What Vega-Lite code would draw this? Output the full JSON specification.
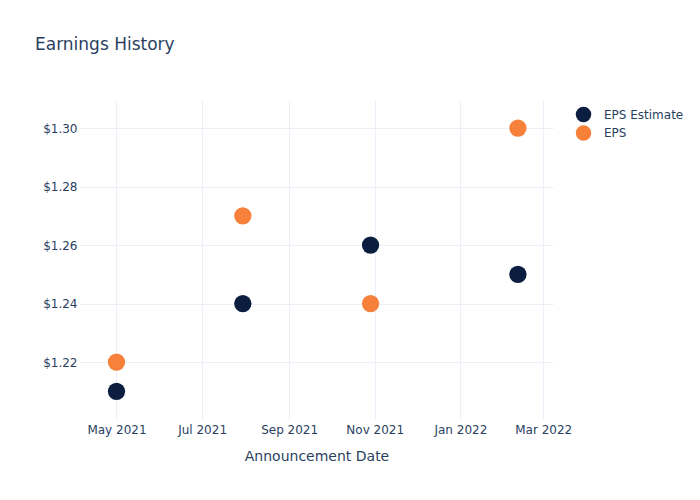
{
  "$schema": "https://vega.github.io/schema/vega-lite/v6.json",
  "autosize": "none",
  "width": 473,
  "height": 320,
  "padding": {"left": 80, "top": 100, "right": 147, "bottom": 80},
  "background": "white",
  "title": {"text": "Earnings History", "anchor": "start", "frame": "group", "dx": -45, "offset": 33, "fontSize": 17, "font": "DejaVu Sans", "fontWeight": "normal", "color": "#2a3f5f", "baseline": "alphabetic"},
  "config": {
    "font": "DejaVu Sans",
    "view": {"stroke": null},
    "axis": {"domain": false, "ticks": false, "gridColor": "#ebf0f8", "gridWidth": 1, "labelColor": "#2a3f5f", "labelFontSize": 12, "titleColor": "#2a3f5f", "titleFontSize": 14, "titleFontWeight": "normal"}
  },
  "data": {"values": [
    {"date": "2021-05-01", "series": "EPS Estimate", "value": 1.21},
    {"date": "2021-07-30", "series": "EPS Estimate", "value": 1.24},
    {"date": "2021-10-29", "series": "EPS Estimate", "value": 1.26},
    {"date": "2022-02-11", "series": "EPS Estimate", "value": 1.25},
    {"date": "2021-05-01", "series": "EPS", "value": 1.22},
    {"date": "2021-07-30", "series": "EPS", "value": 1.27},
    {"date": "2021-10-29", "series": "EPS", "value": 1.24},
    {"date": "2022-02-11", "series": "EPS", "value": 1.30}
  ]},
  "mark": {"type": "circle", "size": 300, "opacity": 1},
  "encoding": {
    "x": {"field": "date", "type": "temporal", "title": "Announcement Date",
      "scale": {"type": "utc", "domain": [{"year": 2021, "month": 4, "date": 5, "utc": true}, {"year": 2022, "month": 3, "date": 8, "utc": true}]},
      "axis": {"values": [
        {"year": 2021, "month": 5, "date": 1, "utc": true},
        {"year": 2021, "month": 7, "date": 1, "utc": true},
        {"year": 2021, "month": 9, "date": 1, "utc": true},
        {"year": 2021, "month": 11, "date": 1, "utc": true},
        {"year": 2022, "month": 1, "date": 1, "utc": true},
        {"year": 2022, "month": 3, "date": 1, "utc": true}
      ], "format": "%b %Y", "labelPadding": 4, "titlePadding": 14, "labelFlush": false, "labelOverlap": false}},
    "y": {"field": "value", "type": "quantitative", "title": null,
      "scale": {"domain": [1.2002, 1.3096], "zero": false, "nice": false},
      "axis": {"values": [1.22, 1.24, 1.26, 1.28, 1.30], "format": "$.2f", "labelPadding": 3}},
    "color": {"field": "series", "type": "nominal",
      "scale": {"domain": ["EPS Estimate", "EPS"], "range": ["#0c1e3f", "#f7813a"]},
      "legend": {"title": null, "orient": "none", "legendX": 495, "legendY": 6, "symbolType": "circle", "symbolSize": 240, "symbolOpacity": 1, "labelFontSize": 12, "labelColor": "#2a3f5f", "rowPadding": 1.5, "labelOffset": 12}},
    "order": {"field": "series", "sort": "descending"}
  }
}
